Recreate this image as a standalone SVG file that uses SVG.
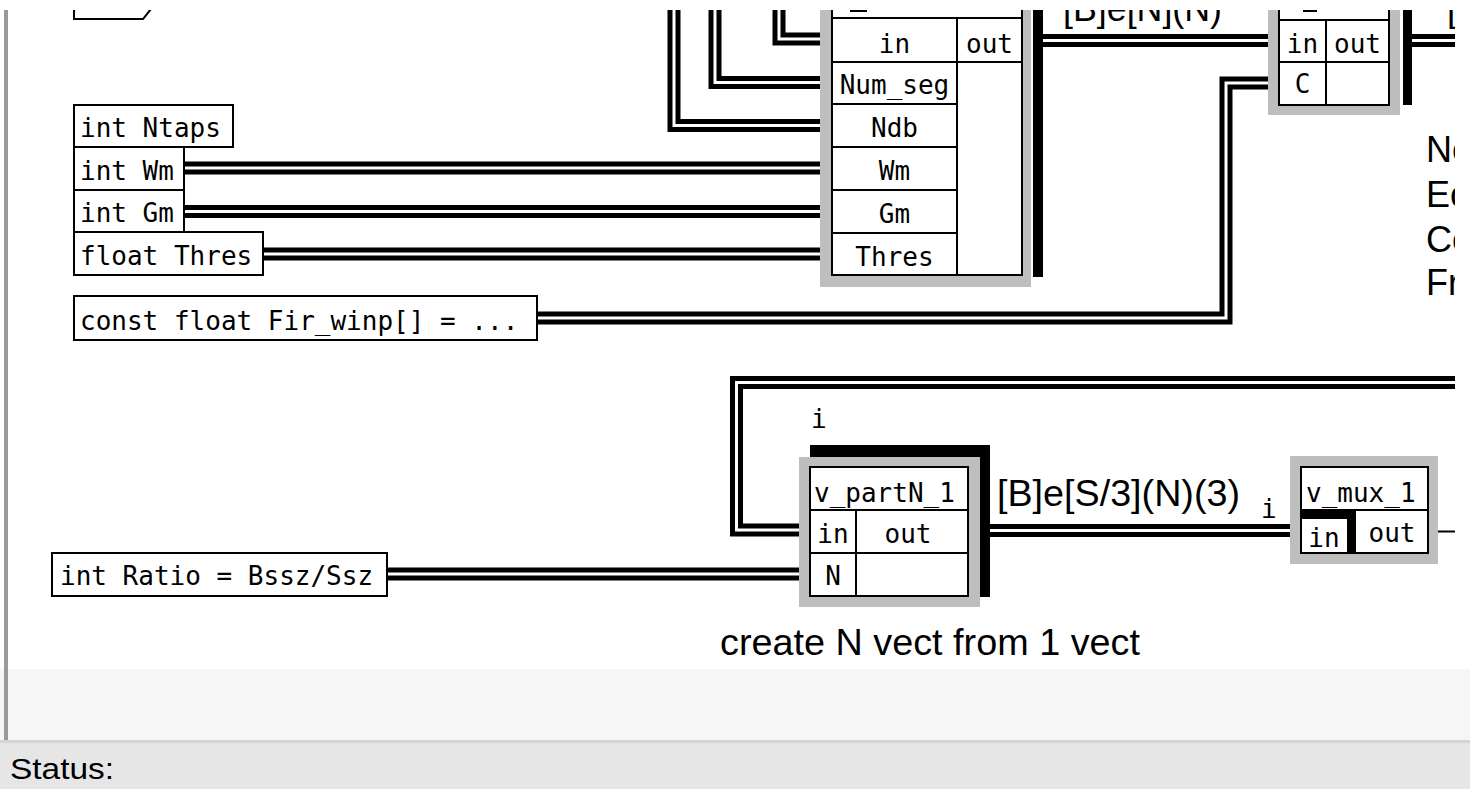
<svg xmlns="http://www.w3.org/2000/svg" width="1470" height="789" viewBox="0 0 1470 789">
<style>
.w{fill:none;stroke:#000;stroke-width:13}
.wi{fill:none;stroke:#fff;stroke-width:3}
.thin{fill:none;stroke:#000;stroke-width:2}
.frame{fill:#bebebe}
.tbl{fill:#fff;stroke:#000;stroke-width:2}
.ln{stroke:#000;stroke-width:2}
.bar{fill:#000}
.m{font-family:"DejaVu Sans Mono","Liberation Mono",monospace;font-size:26px;fill:#000}
.c{text-anchor:middle}
.s{font-family:"Liberation Sans",Arial,sans-serif;font-size:36px;fill:#000}
</style>
<defs>
<clipPath id="cv"><rect x="0" y="10" width="1455" height="659"/></clipPath>
<path id="p1" d="M779 0V39H820"/>
<path id="p2" d="M715 0V82.5H820"/>
<path id="p3" d="M674 0V125.5H820"/>
<path id="p4" d="M184 168H820"/>
<path id="p5" d="M184 211.5H820"/>
<path id="p6" d="M263 254H820"/>
<path id="p7" d="M537 318H1226V83H1268"/>
<path id="p8" d="M1043 40.5H1268"/>
<path id="p9" d="M1412 40.5H1460"/>
<path id="p10" d="M1460 382.5H736.5V530H799"/>
<path id="p11" d="M990 530.5H1290"/>
<path id="p12" d="M387 574H799"/>
</defs>
<rect width="1470" height="789" fill="#fff"/>
<g clip-path="url(#cv)">
<g id="connectors">
<use href="#p1" class="w"/><use href="#p1" class="wi"/>
<use href="#p2" class="w"/><use href="#p2" class="wi"/>
<use href="#p3" class="w"/><use href="#p3" class="wi"/>
<use href="#p4" class="w"/><use href="#p4" class="wi"/>
<use href="#p5" class="w"/><use href="#p5" class="wi"/>
<use href="#p6" class="w"/><use href="#p6" class="wi"/>
<use href="#p7" class="w"/><use href="#p7" class="wi"/>
<use href="#p8" class="w"/><use href="#p8" class="wi"/>
<use href="#p9" class="w"/><use href="#p9" class="wi"/>
<use href="#p10" class="w"/><use href="#p10" class="wi"/>
<use href="#p11" class="w"/><use href="#p11" class="wi"/>
<use href="#p12" class="w"/><use href="#p12" class="wi"/>
<path class="thin" d="M1438 531.5H1460"/>
<text class="s" x="1063" y="21" textLength="159" lengthAdjust="spacingAndGlyphs">[B]e[N](N)</text>
<text class="s" x="1447" y="21">[</text>
<text class="s" x="997" y="506" textLength="243" lengthAdjust="spacingAndGlyphs">[B]e[S/3](N)(3)</text>
<text class="m" x="811" y="428">i</text>
<text class="m" x="1261" y="518">i</text>
</g>
<g id="top-shape"><path class="thin" d="M74 0V19H143L151 9"/></g>
<g id="int-Ntaps"><rect class="tbl" x="74" y="105" width="159" height="42"/><text class="m" x="80" y="137">int Ntaps</text></g>
<g id="int-Wm"><rect class="tbl" x="74" y="147" width="110" height="43"/><text class="m" x="80" y="180">int Wm</text></g>
<g id="int-Gm"><rect class="tbl" x="74" y="190" width="110" height="42"/><text class="m" x="80" y="222">int Gm</text></g>
<g id="float-Thres"><rect class="tbl" x="74" y="232" width="189" height="43"/><text class="m" x="80" y="265">float Thres</text></g>
<g id="const-Fir-winp"><rect class="tbl" x="74" y="296" width="463" height="44"/><text class="m" x="80" y="330">const float Fir_winp[] = ...</text></g>
<g id="int-Ratio"><rect class="tbl" x="52" y="553" width="335" height="43"/><text class="m" x="60" y="585">int Ratio = Bssz/Ssz</text></g>
<g id="node-top">
<rect class="frame" x="820" y="0" width="211" height="287"/>
<rect class="bar" x="1033" y="0" width="10" height="277"/>
<rect class="tbl" x="832" y="-20" width="190" height="295"/>
<rect class="bar" x="850" y="9" width="17" height="3"/>
<path class="ln" d="M832 18H1022M832 62H1022M832 104H957M832 147H957M832 190H957M832 233H957M957 18V275"/>
<text class="m c" x="894.5" y="53">in</text>
<text class="m c" x="989.5" y="53">out</text>
<text class="m c" x="894.5" y="94">Num_seg</text>
<text class="m c" x="894.5" y="137">Ndb</text>
<text class="m c" x="894.5" y="180">Wm</text>
<text class="m c" x="894.5" y="223">Gm</text>
<text class="m c" x="894.5" y="266">Thres</text>
</g>
<g id="node-top-right">
<rect class="frame" x="1268" y="0" width="132" height="115"/>
<rect class="bar" x="1403" y="0" width="9" height="105"/>
<rect class="tbl" x="1279" y="-20" width="110" height="125"/>
<rect class="bar" x="1303" y="9" width="14" height="3"/>
<path class="ln" d="M1279 20H1389M1279 62H1389M1326 20V105"/>
<text class="m c" x="1302.5" y="53">in</text>
<text class="m c" x="1357.5" y="53">out</text>
<text class="m c" x="1302.5" y="93">C</text>
</g>
<g id="comment-right">
<text class="s" x="1426" y="162">Ne</text>
<text class="s" x="1426" y="207">Ec</text>
<text class="s" x="1426" y="252">Co</text>
<text class="s" x="1426" y="295">Fr</text>
</g>
<g id="v_partN_1">
<rect class="bar" x="810" y="445" width="180" height="12"/>
<rect class="bar" x="980" y="445" width="10" height="152"/>
<rect class="frame" x="799" y="457" width="181" height="150"/>
<rect class="tbl" x="810" y="467" width="158" height="129"/>
<path class="ln" d="M810 510H968M810 553H968M856 510V596"/>
<text class="m" x="814" y="502">v_partN_1</text>
<text class="m c" x="833" y="543">in</text>
<text class="m c" x="908" y="543">out</text>
<text class="m c" x="833" y="585">N</text>
<text class="s" x="720" y="655" textLength="420" lengthAdjust="spacingAndGlyphs">create N vect from 1 vect</text>
</g>
<g id="v_mux_1">
<rect class="frame" x="1290" y="456" width="148" height="108"/>
<rect class="tbl" x="1301" y="467" width="127" height="86"/>
<path class="ln" d="M1301 510H1428"/>
<rect class="bar" x="1301" y="510" width="55" height="9"/>
<rect class="bar" x="1347" y="510" width="9" height="43"/>
<text class="m" x="1306" y="502">v_mux_1</text>
<text class="m c" x="1324" y="547">in</text>
<text class="m c" x="1392" y="542">out</text>
</g>
</g>
<rect x="0" y="669" width="1470" height="71" fill="#f6f6f6"/>
<rect x="4" y="10" width="4" height="730" fill="#9a9a9a"/>
<rect x="0" y="740" width="1470" height="3" fill="#d4d4d4"/>
<rect x="0" y="743" width="1470" height="46" fill="#e6e6e6"/>
<text x="10" y="779" font-family="Liberation Sans, Arial, sans-serif" font-size="30" textLength="104" lengthAdjust="spacingAndGlyphs" fill="#000">Status:</text>
</svg>
